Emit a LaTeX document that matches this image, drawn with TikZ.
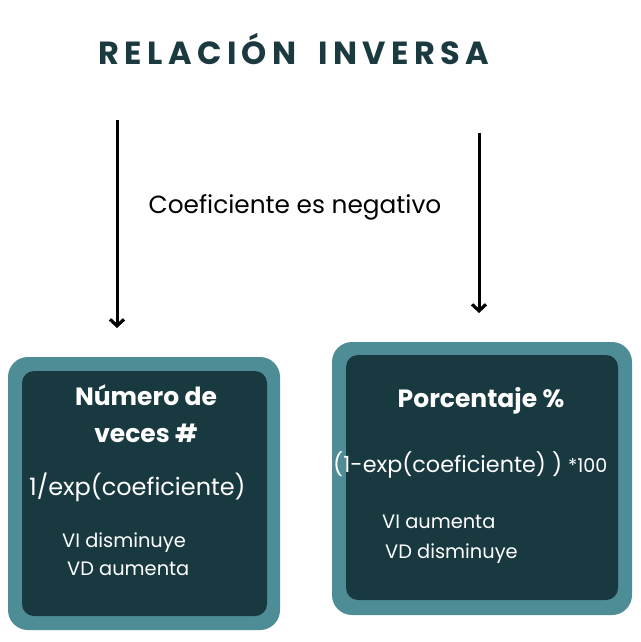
\documentclass[tikz,border=0pt]{standalone}
\usepackage{fontspec}
\setmainfont{Poppins}
\newfontfamily\titlefont[LetterSpace=17]{Poppins}
\usetikzlibrary{arrows.meta}
\definecolor{outerteal}{RGB}{78,140,150}
\definecolor{innerteal}{RGB}{24,57,64}
\definecolor{titlecol}{RGB}{26,58,64}
\tikzset{
  outerbox/.style={fill=outerteal, rounded corners=20pt},
  innerbox/.style={fill=innerteal, rounded corners=12pt},
  flowarrow/.style={line width=3pt, -{Straight Barb[length=6.5pt,width=14pt,line width=3.2pt]}},
  boxtitle/.style={text=white, font=\bfseries\fontsize{25}{28}\selectfont, inner sep=0pt},
  boxtext/.style={text=white, font=\fontsize{19.4}{22}\selectfont, inner sep=0pt, anchor=base west},
  formula/.style={text=white, font=\fontsize{24}{27}\selectfont, inner sep=0pt, anchor=base west}
}
\begin{document}
\begin{tikzpicture}[x=1pt,y=-1pt]
\useasboundingbox[fill=white] (0,0) rectangle (640,642);
% title
\node[inner sep=0pt, anchor=base, text=titlecol, font=\titlefont\bfseries\fontsize{32}{36}\selectfont] (title) at (294,64) {RELACIÓN\hspace{22pt}INVERSA};
% middle label
\node[inner sep=0pt, anchor=base, font=\fontsize{24.8}{28}\selectfont] (coef) at (295,213) {Coeficiente es negativo};
% arrows
\coordinate (la1) at (117,120);
\coordinate (la2) at (117,328);
\coordinate (ra1) at (479,133);
\coordinate (ra2) at (479,313);
\draw[flowarrow] (la1) -- (la2);
\draw[flowarrow] (ra1) -- (ra2);
% left box
\path[outerbox] (8,357) rectangle (280,630);
\path[innerbox] (22,371) rectangle (267,616);
\node[boxtitle, anchor=base] (l1) at (146,405) {Número de};
\node[boxtitle, anchor=base] (l2) at (146,442) {veces \#};
\node[formula] (l3) at (29,495) {1/exp(coeficiente)};
\node[boxtext] (l4) at (62,547) {VI disminuye};
\node[boxtext] (l5) at (67,575) {VD aumenta};
% right box
\path[outerbox] (332,342) rectangle (632,615);
\path[innerbox] (346,355) rectangle (618,600);
\node[boxtitle, anchor=base] (r1) at (481,407) {Porcentaje \%};
\node[boxtext, font=\fontsize{22.3}{25}\selectfont] (r2) at (333,472) {(1-exp(coeficiente) ) {\fontsize{19}{22}\selectfont *100}};
\node[boxtext] (r3) at (382,528) {VI aumenta};
\node[boxtext] (r4) at (385,558) {VD disminuye};
\end{tikzpicture}
\end{document}
